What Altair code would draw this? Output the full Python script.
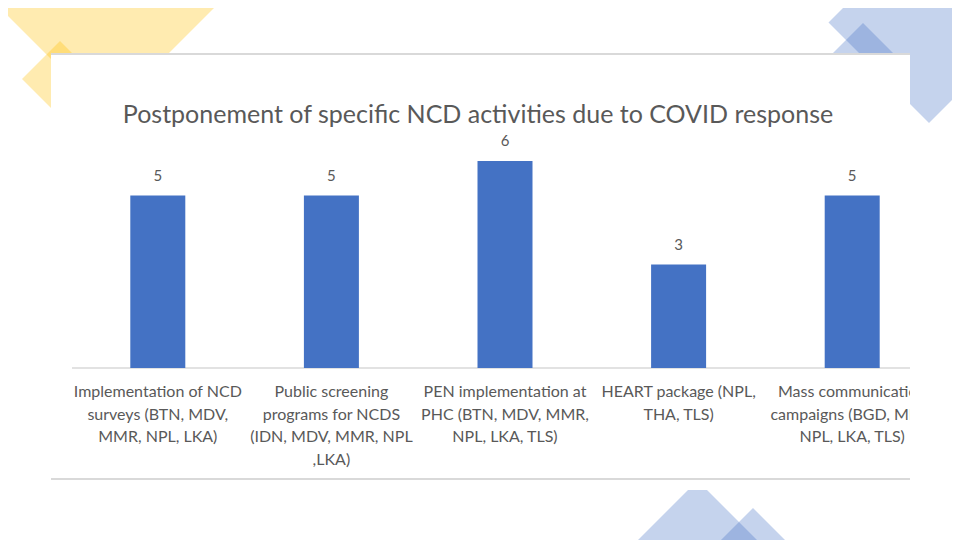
import altair as alt
import pandas as pd

# ---------------- data ----------------
categories = [
    "Implementation of NCD\nsurveys (BTN, MDV,\nMMR, NPL, LKA)",
    "Public screening\nprograms for NCDS\n(IDN, MDV, MMR, NPL\n,LKA)",
    "PEN implementation at\nPHC (BTN, MDV, MMR,\nNPL, LKA, TLS)",
    "HEART package (NPL,\nTHA, TLS)",
    "Mass communication\ncampaigns (BGD, MDV,\nNPL, LKA, TLS)",
]
counts = [5, 5, 6, 3, 5]
title_text = "Postponement of specific NCD activities due to COVID response"

# ---------------- layout (page pixels) ----------------
OX, OY = 71, 161          # plot-area origin on the page
W, H = 868, 207           # plot area size
TOTAL_W, TOTAL_H = 944, 532
PAD = dict(left=OX - 8, top=OY - 8, right=TOTAL_W - (OX - 8) - W, bottom=TOTAL_H - (OY - 8) - H)

def px(x):
    return x - OX

def py(y):
    return y - OY

# decorative slide shapes: outlines in page pixels
shapes = [
    ("#FFC000", [(-8, 0), (222, 0), (107, 115)]),
    ("#FFC000", [(22, 79), (60, 41), (98, 79), (60, 117)]),
    ("#4472C4", [(828.5, 22.5), (929, -78), (1029.5, 22.5), (929, 123)]),
    ("#4472C4", [(823, 63), (863, 23), (903, 63), (863, 103)]),
    ("#4472C4", [(628, 550), (688, 490), (707, 490), (767, 550)]),
    ("#4472C4", [(698, 563), (753, 508), (808, 563)]),
]

def path_of(pts):
    return "M" + "L".join(f"{px(x)},{py(y)}" for x, y in pts) + "Z"

df = pd.DataFrame({"cat": categories, "n": counts})
one = pd.DataFrame({"k": [0]})

FONT = "Lato"
GREY = "#595959"

deco_layers = [
    alt.Chart(one).mark_point(
        shape=path_of(pts), size=4, filled=True, fill=col, fillOpacity=0.31,
        strokeWidth=0, opacity=1,
    ).encode(x=alt.value(0), y=alt.value(0))
    for col, pts in shapes
]

panel = alt.Chart(one).mark_rect(color="white").encode(
    x=alt.value(px(51)), x2=alt.value(px(910)), y=alt.value(py(53)), y2=alt.value(py(480))
)
border_top = alt.Chart(one).mark_rule(color="#D9D9D9", strokeWidth=2).encode(
    x=alt.value(px(51)), x2=alt.value(px(910)), y=alt.value(py(54))
)
border_bot = alt.Chart(one).mark_rule(color="#D9D9D9", strokeWidth=2).encode(
    x=alt.value(px(51)), x2=alt.value(px(910)), y=alt.value(py(479))
)
baseline = alt.Chart(one).mark_rule(color="#D9D9D9", strokeWidth=1.5).encode(
    x=alt.value(px(72)), x2=alt.value(px(910)), y=alt.value(H)
)

xenc = alt.X("cat:N", sort=None, scale=alt.Scale(paddingInner=0, paddingOuter=0), axis=None)
yenc = alt.Y("n:Q", scale=alt.Scale(domain=[0, 6], nice=False, zero=True), axis=None)

bars = alt.Chart(df).mark_bar(color="#4472C4", width=55).encode(x=xenc, y=yenc)
labels = alt.Chart(df).mark_text(
    font=FONT, fontSize=15, color=GREY, baseline="alphabetic", dy=-15
).encode(x=alt.X("cat:N", sort=None), y="n:Q", text="n:Q")

cat_labels = alt.Chart(df).mark_text(
    font=FONT, fontSize=16, color=GREY, baseline="top", align="center",
    lineBreak="\n", lineHeight=22.5,
).encode(x=alt.X("cat:N", sort=None), y=alt.value(py(384)), text="cat:N")

mask = alt.Chart(one).mark_rect(color="white").encode(
    x=alt.value(px(910)), x2=alt.value(px(975)), y=alt.value(py(356)), y2=alt.value(py(476))
)

title = alt.Chart(pd.DataFrame({"t": [title_text]})).mark_text(
    font=FONT, fontSize=25, color=GREY, align="center", baseline="middle"
).encode(x=alt.value(px(478)), y=alt.value(py(115)), text="t:N")

chart = alt.layer(
    *deco_layers, panel, border_top, border_bot, baseline, bars, labels, cat_labels, mask, title
).properties(
    width=W,
    height=H,
    padding=PAD,
    autosize=alt.AutoSizeParams(type="none"),
    background="white",
).configure_view(stroke=None)

chart.save("out.html", embed_options={"renderer": "svg", "actions": False})
